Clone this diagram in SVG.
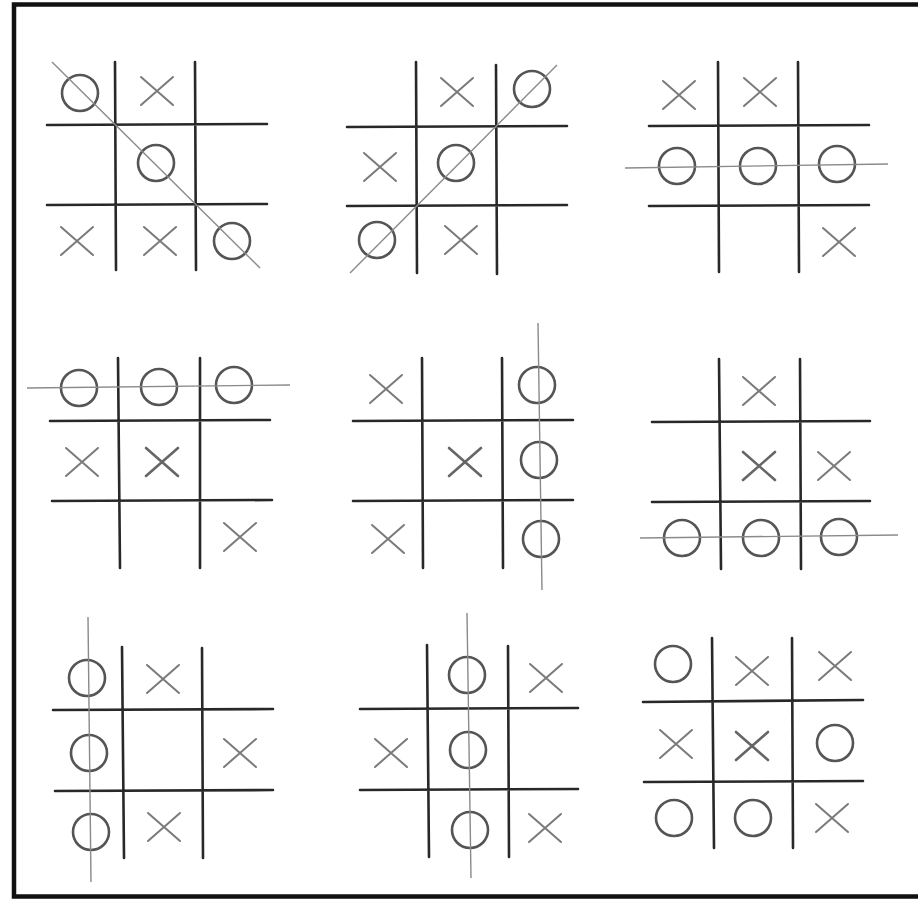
<svg xmlns="http://www.w3.org/2000/svg" width="918" height="899" viewBox="0 0 918 899">
<style>
.g{stroke:#111;stroke-width:2.6;fill:none;stroke-linecap:round;stroke-opacity:.9}
.o{stroke:#555;stroke-width:2.6;fill:none}
.x{stroke:#7a7a7a;stroke-width:2;fill:none;stroke-linecap:round}
.xb{stroke:#666;stroke-width:2.6;fill:none;stroke-linecap:round}
.w{stroke:#8a8a8a;stroke-width:1.4;fill:none}
</style>
<rect x="0" y="0" width="918" height="899" fill="#fff"/>
<rect x="14" y="4.5" width="910" height="892" fill="none" stroke="#111" stroke-width="4.5"/>
<defs>
<path id="X" d="M-16,-14 L16,14 M16,-14 L-16,14"/>
</defs>

<g id="board1">
<path class="g" d="M115,62 L116,270 M195,62 L196,270 M47,125 L267,124 M47,205 L267,204"/>
<circle class="o" cx="80" cy="93" r="18"/>
<circle class="o" cx="156" cy="163" r="18"/>
<circle class="o" cx="232" cy="241" r="18"/>
<use class="x" href="#X" x="157" y="91"/>
<use class="x" href="#X" x="77" y="241"/>
<use class="x" href="#X" x="160" y="241"/>
<line class="w" x1="52" y1="62" x2="260" y2="268"/>
</g>

<g id="board2">
<path class="g" d="M416,62 L417,273 M496,65 L497,274 M347,127 L567,126 M347,206 L567,205"/>
<use class="x" href="#X" x="457" y="92"/>
<circle class="o" cx="532" cy="89" r="18"/>
<use class="x" href="#X" x="380" y="167"/>
<circle class="o" cx="456" cy="163" r="18"/>
<circle class="o" cx="377" cy="240" r="18"/>
<use class="x" href="#X" x="461" y="240"/>
<line class="w" x1="350" y1="273" x2="557" y2="65"/>
</g>

<g id="board3">
<path class="g" d="M718,62 L719,272 M798,62 L799,272 M649,126 L869,125 M649,206 L869,205"/>
<use class="x" href="#X" x="679" y="95"/>
<use class="x" href="#X" x="760" y="92"/>
<circle class="o" cx="677" cy="166" r="18"/>
<circle class="o" cx="758" cy="166" r="18"/>
<circle class="o" cx="837" cy="164" r="18"/>
<use class="x" href="#X" x="839" y="242"/>
<line class="w" x1="625" y1="168" x2="888" y2="164"/>
</g>

<g id="board4">
<path class="g" d="M118,358 L120,568 M200,358 L200,568 M50,421 L270,420 M52,501 L272,500"/>
<circle class="o" cx="79" cy="388" r="18"/>
<circle class="o" cx="159" cy="387" r="18"/>
<circle class="o" cx="234" cy="385" r="18"/>
<use class="x" href="#X" x="82" y="462"/>
<use class="xb" href="#X" x="162" y="462"/>
<use class="x" href="#X" x="240" y="537"/>
<line class="w" x1="27" y1="388" x2="290" y2="385"/>
</g>

<g id="board5">
<path class="g" d="M422,358 L423,568 M502,358 L503,568 M353,421 L573,420 M353,501 L573,500"/>
<use class="x" href="#X" x="386" y="389"/>
<use class="xb" href="#X" x="465" y="462"/>
<use class="x" href="#X" x="388" y="539"/>
<circle class="o" cx="537" cy="385" r="18"/>
<circle class="o" cx="539" cy="460" r="18"/>
<circle class="o" cx="541" cy="539" r="18"/>
<line class="w" x1="538" y1="323" x2="542" y2="590"/>
</g>

<g id="board6">
<path class="g" d="M719,359 L721,569 M800,359 L801,569 M652,422 L870,421 M652,502 L870,501"/>
<use class="x" href="#X" x="759" y="391"/>
<use class="xb" href="#X" x="759" y="466"/>
<use class="x" href="#X" x="834" y="466"/>
<circle class="o" cx="682" cy="538" r="18"/>
<circle class="o" cx="761" cy="538" r="18"/>
<circle class="o" cx="839" cy="537" r="18"/>
<line class="w" x1="640" y1="538" x2="898" y2="535"/>
</g>

<g id="board7">
<path class="g" d="M122,647 L124,858 M202,648 L203,858 M53,710 L273,709 M55,791 L273,790"/>
<circle class="o" cx="87" cy="678" r="18"/>
<circle class="o" cx="89" cy="753" r="18"/>
<circle class="o" cx="91" cy="832" r="18"/>
<use class="x" href="#X" x="163" y="679"/>
<use class="x" href="#X" x="240" y="753"/>
<use class="x" href="#X" x="164" y="827"/>
<line class="w" x1="88" y1="617" x2="91" y2="882"/>
</g>

<g id="board8">
<path class="g" d="M427,645 L429,857 M508,646 L509,857 M360,709 L578,708 M360,790 L578,789"/>
<circle class="o" cx="467" cy="675" r="18"/>
<circle class="o" cx="468" cy="750" r="18"/>
<circle class="o" cx="470" cy="830" r="18"/>
<use class="x" href="#X" x="546" y="678"/>
<use class="x" href="#X" x="391" y="753"/>
<use class="x" href="#X" x="545" y="828"/>
<line class="w" x1="467" y1="613" x2="471" y2="878"/>
</g>

<g id="board9">
<path class="g" d="M712,638 L714,848 M792,638 L793,848 M643,702 L863,700 M644,782 L863,781"/>
<circle class="o" cx="673" cy="664" r="18"/>
<use class="x" href="#X" x="752" y="671"/>
<use class="x" href="#X" x="835" y="666"/>
<use class="x" href="#X" x="676" y="744"/>
<use class="xb" href="#X" x="752" y="746"/>
<circle class="o" cx="835" cy="743" r="18"/>
<circle class="o" cx="674" cy="818" r="18"/>
<circle class="o" cx="753" cy="818" r="18"/>
<use class="x" href="#X" x="832" y="818"/>
</g>
</svg>
